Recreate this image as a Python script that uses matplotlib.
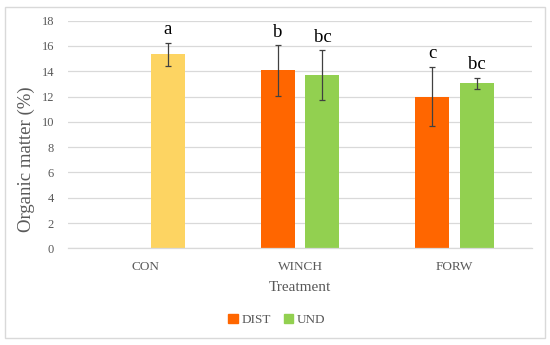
import numpy as np
import matplotlib.pyplot as plt
from matplotlib.patches import Rectangle

# Data
treatments = ['CON', 'WINCH', 'FORW']
dist_values = [np.nan, 14.07, 12.0]
dist_errors = [np.nan, 2.0, 2.35]
und_values = [15.35, 13.7, 13.05]
und_errors = [0.9, 1.97, 0.45]
dist_letters = ['', 'b', 'c']
und_letters = ['a', 'bc', 'bc']

plt.rcParams['font.family'] = ['Liberation Serif', 'DejaVu Serif']

fig = plt.figure(figsize=(5.5, 3.45), dpi=100)
fig.patches.append(Rectangle((5 / 550, 7 / 345), 540 / 550, 331 / 345,
                             transform=fig.transFigure, fill=False,
                             edgecolor='#d9d9d9', linewidth=1))
axis = fig.add_axes([68 / 550, 1 - 248.3 / 345, 464 / 550, 227.6 / 345])

x = np.arange(len(treatments))
width = 0.22
offset = 0.145
err_style = dict(ecolor='#404040', elinewidth=0.9, capsize=2.5, capthick=0.9)

und_colors = ['#fdd462', '#92d050', '#92d050']
axis.bar(x - offset, dist_values, width, color='#ff6600', label='DIST', zorder=2)
axis.bar(x + offset, und_values, width, color=und_colors, zorder=2)
axis.errorbar(x - offset, dist_values, yerr=dist_errors, fmt='none', zorder=3, **err_style)
axis.errorbar(x + offset, und_values, yerr=und_errors, fmt='none', zorder=3, **err_style)

# Significance letters above the error bars
for i in range(len(treatments)):
    if dist_letters[i]:
        axis.text(x[i] - offset, dist_values[i] + dist_errors[i] + 0.35, dist_letters[i],
                  ha='center', va='bottom', fontsize=13.5)
    axis.text(x[i] + offset, und_values[i] + und_errors[i] + 0.35, und_letters[i],
              ha='center', va='bottom', fontsize=13.5)

axis.set_xlim(-0.5, 2.5)
axis.set_ylim(0, 18)
axis.set_yticks(range(0, 19, 2))
axis.set_xticks(x)
axis.set_xticklabels(treatments)
axis.tick_params(axis='both', length=0, labelsize=9, labelcolor='#595959')
axis.tick_params(axis='y', pad=10)
axis.tick_params(axis='x', pad=9, labelsize=9.5)
axis.grid(visible=True, axis='y', color='#d9d9d9', linewidth=0.9, zorder=0)
axis.set_axisbelow(True)
for side in ['top', 'right', 'left']:
    axis.spines[side].set(visible=False)
axis.spines['bottom'].set(color='#d9d9d9', linewidth=0.9)

axis.set_ylabel('Organic matter (%)', fontsize=13.5, color='#595959')
axis.yaxis.set_label_coords(-33 / 464, (248.3 - 159) / 227.6)
axis.set_xlabel('Treatment', fontsize=11, color='#595959', labelpad=6)

dist_patch = Rectangle((0, 0), 1, 1, color='#ff6600')
und_patch = Rectangle((0, 0), 1, 1, color='#92d050')
fig.legend([dist_patch, und_patch], ['DIST', 'UND'], loc='center',
           bbox_to_anchor=(277 / 550, 1 - 320 / 345), ncol=2, frameon=False,
           fontsize=9.5, labelcolor='#595959', handlelength=0.7, handleheight=0.7,
           handletextpad=0.3, columnspacing=1.0)

plt.savefig('out.png', dpi=100)
